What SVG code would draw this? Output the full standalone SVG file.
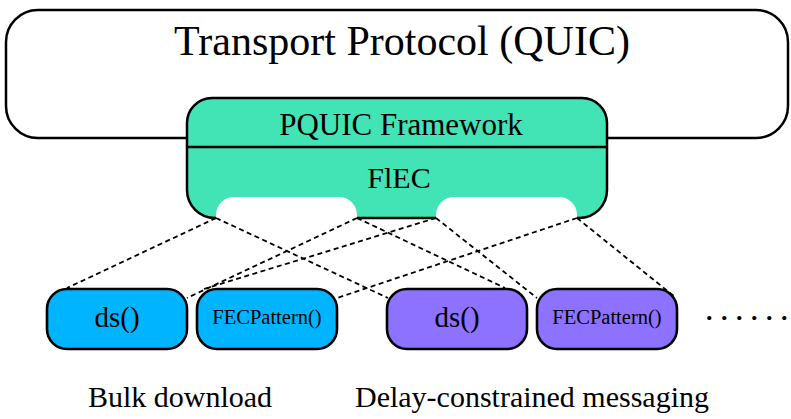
<svg xmlns="http://www.w3.org/2000/svg" width="791" height="419" viewBox="0 0 791 419">
  <style>
    .serif { font-family: "Liberation Serif", "DejaVu Serif", serif; fill: #000; }
    .frame { stroke: #000; stroke-width: 2.5; }
    .node { stroke: #000; stroke-width: 2.6; }
    .bulk { fill: #00b4ff; }
    .delay { fill: #8c72ff; }
    .link { fill: none; stroke: #000; stroke-width: 1.8; stroke-dasharray: 5 3.5; }
  </style>

  <!-- Transport protocol container -->
  <g id="transport">
    <rect class="frame" x="6" y="10" width="782" height="128" rx="32" ry="32" fill="#fff"/>
    <text class="serif" x="402" y="55" font-size="42" text-anchor="middle">Transport Protocol (QUIC)</text>
  </g>

  <!-- PQUIC framework with the FlEC plugin -->
  <g id="pquic">
    <path class="frame" fill="#42e3b4" d="M187,123 A25,25 0 0 1 212,98 H582 A25,25 0 0 1 607,123 V190 A28,28 0 0 1 579,218 H215 A28,28 0 0 1 187,190 Z"/>
    <line class="frame" x1="187" y1="147" x2="607" y2="147"/>
    <!-- plugin slots -->
    <path fill="#fff" d="M216,221 V215 A18,18 0 0 1 234,197 H339 A18,18 0 0 1 357,215 V221 Z"/>
    <path fill="#fff" d="M436,221 V215 A18,18 0 0 1 454,197 H559 A18,18 0 0 1 577,215 V221 Z"/>
    <text class="serif" x="401" y="135" font-size="31" text-anchor="middle">PQUIC Framework</text>
    <text class="serif" x="399" y="188" font-size="30" text-anchor="middle">FlEC</text>
  </g>

  <!-- Dashed links from slots to the per-application functions -->
  <g id="connectors">
    <line class="link" x1="216" y1="218" x2="67" y2="288"/>
    <line class="link" x1="216" y1="218" x2="388" y2="298"/>
    <line class="link" x1="357" y1="218" x2="187" y2="298"/>
    <line class="link" x1="357" y1="218" x2="505" y2="288"/>
    <line class="link" x1="436" y1="218" x2="204" y2="289"/>
    <line class="link" x1="436" y1="218" x2="537" y2="298"/>
    <line class="link" x1="577" y1="218" x2="337" y2="298"/>
    <line class="link" x1="577" y1="218" x2="675" y2="297"/>
  </g>

  <!-- Bulk download functions -->
  <g id="bulk-ds">
    <rect class="node bulk" x="47" y="289" width="140" height="60" rx="20" ry="20"/>
    <text class="serif" x="117" y="327" font-size="29" text-anchor="middle">ds()</text>
  </g>
  <g id="bulk-fec">
    <rect class="node bulk" x="197" y="289" width="140" height="60" rx="20" ry="20"/>
    <text class="serif" x="267" y="324" font-size="20.5" text-anchor="middle">FECPattern()</text>
  </g>

  <!-- Delay-constrained messaging functions -->
  <g id="delay-ds">
    <rect class="node delay" x="387" y="289" width="140" height="60" rx="20" ry="20"/>
    <text class="serif" x="457" y="327" font-size="29" text-anchor="middle">ds()</text>
  </g>
  <g id="delay-fec">
    <rect class="node delay" x="537" y="289" width="140" height="60" rx="20" ry="20"/>
    <text class="serif" x="607" y="324" font-size="20.5" text-anchor="middle">FECPattern()</text>
  </g>

  <text class="serif" x="706 721 736 751 766 781" y="320" font-size="26" font-weight="bold">......</text>

  <!-- Use-case captions -->
  <text class="serif" x="180" y="407" font-size="30" text-anchor="middle">Bulk download</text>
  <text class="serif" x="532" y="407" font-size="30" text-anchor="middle">Delay-constrained messaging</text>
</svg>
